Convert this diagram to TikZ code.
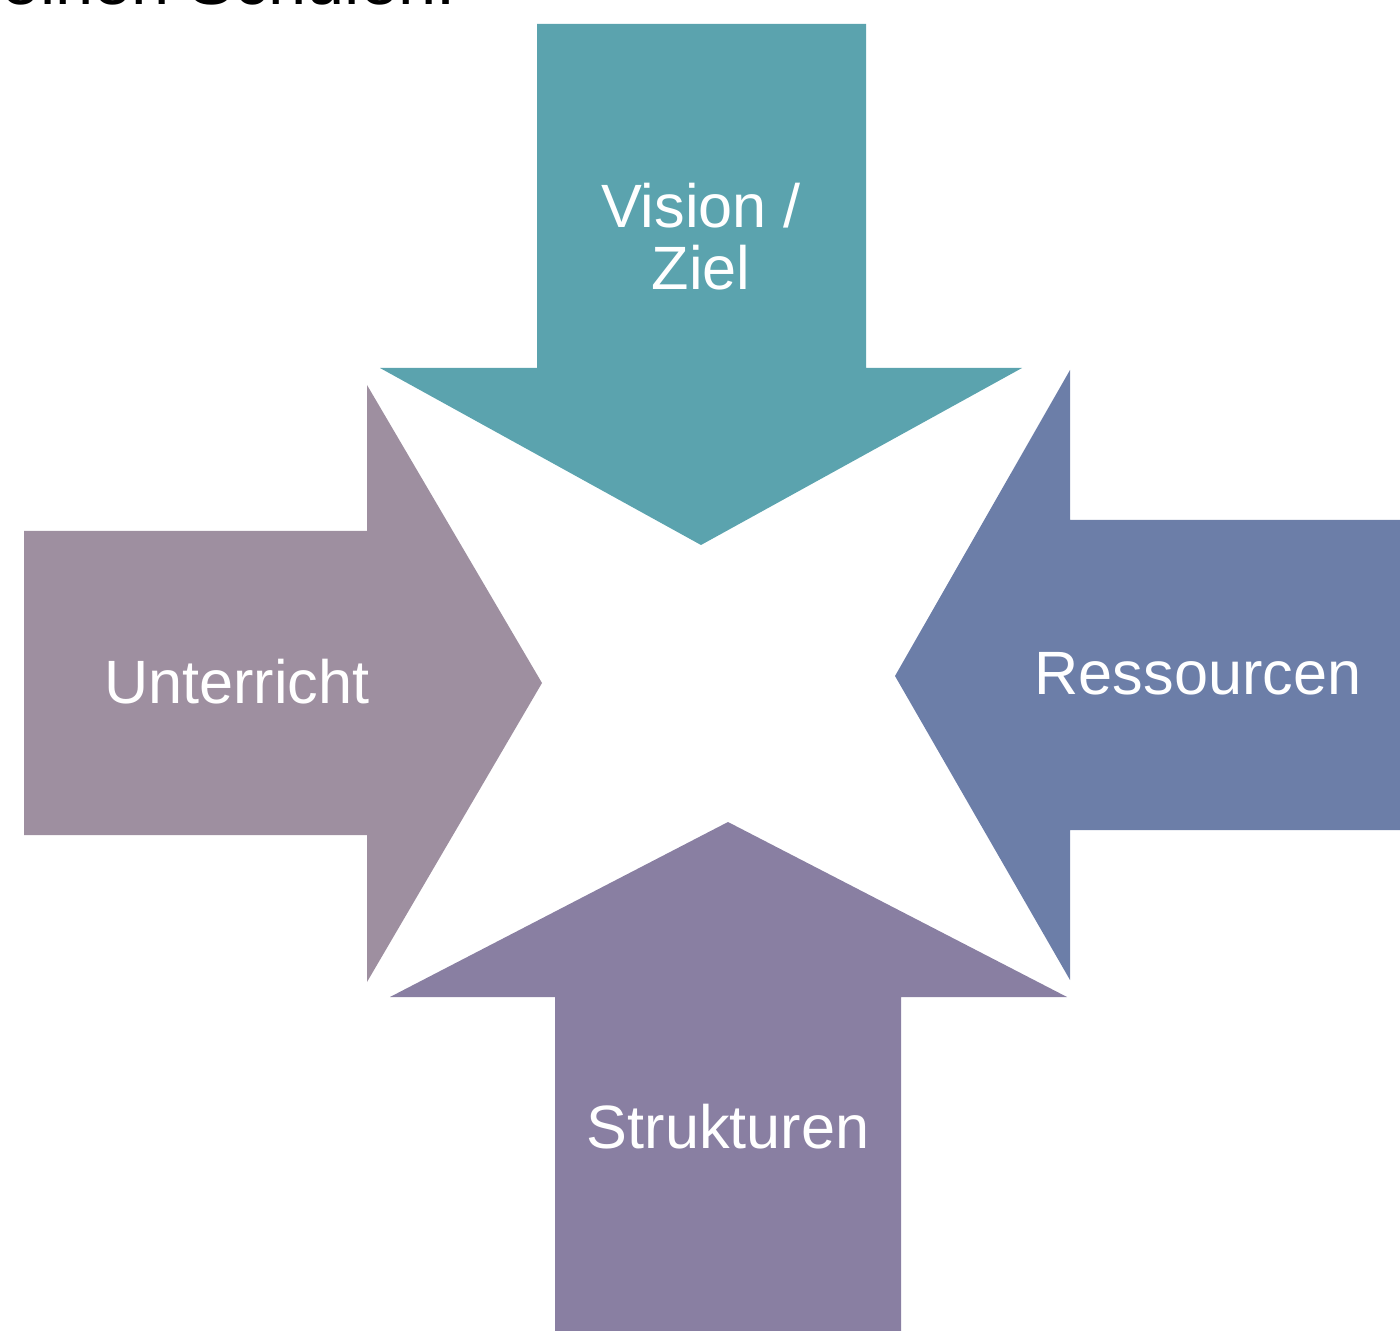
\documentclass[tikz,border=0pt]{standalone}
\usepackage{fontspec}
\setmainfont{Liberation Sans}
\definecolor{tealarrow}{RGB}{91,163,174}
\definecolor{mauvearrow}{RGB}{158,143,160}
\definecolor{bluearrow}{RGB}{108,126,168}
\definecolor{purplearrow}{RGB}{137,127,162}
\tikzset{
  label/.style={text=white,font=\fontsize{17.4}{21.5}\selectfont,align=center,anchor=base},
}
\begin{document}
\begin{tikzpicture}[x=0.01cm,y=-0.01cm]

\useasboundingbox (0,0) rectangle (1400,1331);

\node[anchor=base east,font=\fontsize{19.5}{23}\selectfont] (title) at (468,5) {einen Schulen:};

\fill[tealarrow] (537,24)--(866,24)--(866,368)--(1022,368)--(701,545)--(380,368)--(537,368)--cycle;

\fill[mauvearrow] (24,531)--(367,531)--(367,385)--(542,683)--(367,982)--(367,835)--(24,835)--cycle;

\fill[bluearrow] (1400,520)--(1070,520)--(1070,370)--(895,676)--(1070,980)--(1070,830)--(1400,830)--cycle;

\fill[purplearrow] (555,1331)--(555,997)--(390,997)--(728,822)--(1067,997)--(901,997)--(901,1331)--cycle;

\node[label] (vision) at (701,228) {Vision /};
\node[label] (ziel) at (701,290) {Ziel};
\node[label] (unterricht) at (237,704) {Unterricht};
\node[label] (ressourcen) at (1198,695) {Ressourcen};
\node[label] (strukturen) at (728,1148) {Strukturen};

\end{tikzpicture}
\end{document}
